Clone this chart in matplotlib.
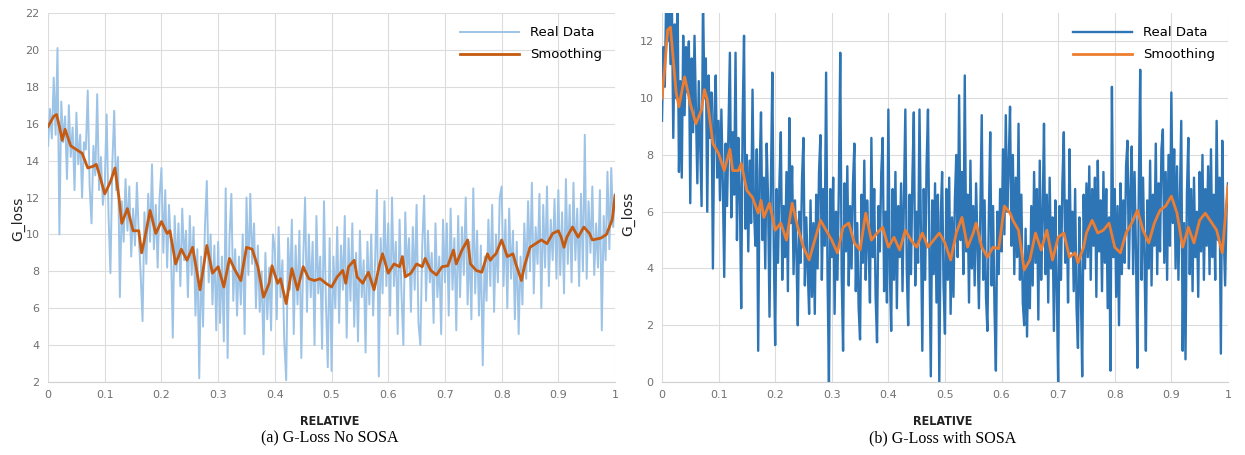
import numpy as np
import matplotlib
matplotlib.use('Agg')
import matplotlib.pyplot as plt

# ---- (a) G-Loss No SOSA ----
real_a = [
    14.8, 16.8, 15.2, 18.5, 15.4, 20.1, 10.0, 17.2, 15.0, 16.4,
    13.0, 17.0, 14.2, 15.8, 12.4, 16.6, 13.8, 15.4, 12.0, 15.0,
    14.6, 17.8, 12.6, 10.6, 14.8, 13.2, 17.6, 12.4, 14.2, 11.6,
    12.8, 16.5, 11.0, 7.9, 13.8, 16.7, 12.4, 14.2, 6.6, 11.8,
    9.6, 13.0, 10.2, 12.6, 8.8, 11.4, 9.4, 12.8, 10.0, 7.8,
    5.3, 11.2, 8.4, 12.2, 9.6, 13.8, 9.2, 11.6, 8.2, 12.0,
    13.6, 9.0, 12.4, 8.2, 11.6, 9.4, 4.4, 11.0, 8.0, 10.6,
    7.2, 11.4, 8.6, 10.2, 6.6, 11.0, 7.8, 10.4, 5.6, 9.2,
    2.2, 8.8, 5.0, 10.4, 12.9, 7.4, 10.0, 6.2, 9.4, 4.8,
    9.6, 5.2, 8.8, 4.2, 12.5, 3.3, 9.8, 12.2, 6.4, 9.2,
    5.6, 8.8, 6.2, 10.0, 4.6, 12.0, 7.8, 12.2, 8.4, 10.6,
    6.0, 9.4, 5.8, 8.0, 3.5, 9.0, 5.4, 8.2, 4.8, 10.0,
    9.2, 5.4, 10.4, 6.6, 8.6, 4.2, 2.1, 9.8, 7.0, 10.8,
    4.6, 9.4, 6.2, 10.2, 3.3, 8.6, 12.0, 5.8, 10.0, 6.6,
    9.6, 4.0, 11.0, 6.8, 8.8, 3.8, 11.8, 6.4, 2.8, 9.8,
    2.6, 8.8, 6.0, 10.4, 5.2, 9.4, 7.0, 11.0, 4.4, 9.8,
    6.4, 10.6, 5.0, 9.0, 4.2, 10.2, 6.6, 8.6, 3.6, 9.6,
    6.2, 10.0, 5.6, 8.4, 12.4, 2.3, 9.8, 6.8, 11.8, 7.2,
    10.6, 5.6, 12.0, 7.2, 9.6, 4.6, 10.8, 6.8, 4.0, 11.2,
    7.8, 9.8, 5.8, 10.4, 7.0, 11.6, 5.2, 4.0, 9.4, 12.1,
    6.4, 10.2, 7.4, 9.0, 5.2, 10.6, 6.6, 8.8, 4.6, 10.8,
    7.4, 10.6, 5.6, 11.4, 7.0, 9.8, 4.8, 11.0, 6.6, 10.4,
    7.8, 12.0, 6.2, 9.6, 5.4, 12.5, 6.8, 10.2, 5.6, 9.4,
    2.9, 8.8, 6.4, 10.8, 7.2, 11.6, 5.8, 10.0, 7.4, 12.0,
    12.6, 7.2, 10.8, 6.0, 11.4, 7.6, 10.2, 5.4, 9.6, 4.6,
    8.8, 6.2, 10.6, 7.6, 11.8, 8.0, 12.8, 6.8, 10.4, 8.4,
    12.2, 6.0, 11.6, 8.2, 12.6, 7.2, 10.8, 8.6, 11.9, 7.6,
    12.4, 7.8, 11.2, 6.8, 13.0, 8.4, 11.6, 7.4, 12.8, 8.6,
    11.4, 7.2, 12.2, 8.0, 15.4, 7.6, 11.8, 9.0, 12.6, 7.8,
    10.6, 8.2, 12.4, 4.8, 11.0, 8.6, 13.4, 9.2, 13.6, 10.4,
    12.2,
]
smooth_a_x = [0, 0.01, 0.015, 0.02, 0.025, 0.03, 0.04, 0.05, 0.06, 0.07,
              0.08, 0.085, 0.09, 0.1, 0.11, 0.118, 0.125, 0.13, 0.14, 0.15,
              0.16, 0.165, 0.17, 0.18, 0.19, 0.2, 0.21, 0.215, 0.225, 0.235,
              0.245, 0.255, 0.268, 0.28, 0.29, 0.3, 0.31, 0.32, 0.33, 0.34,
              0.35, 0.36, 0.37, 0.38, 0.39, 0.395, 0.405, 0.41, 0.42, 0.43,
              0.44, 0.45, 0.46, 0.47, 0.48, 0.49, 0.5, 0.51, 0.52, 0.525,
              0.53, 0.54, 0.545, 0.555, 0.565, 0.575, 0.585, 0.59, 0.6, 0.61,
              0.62, 0.625, 0.63, 0.64, 0.65, 0.66, 0.665, 0.675, 0.685, 0.695,
              0.705, 0.715, 0.72, 0.73, 0.74, 0.745, 0.755, 0.765, 0.775, 0.78,
              0.785, 0.79, 0.8, 0.81, 0.82, 0.825, 0.835, 0.84, 0.85, 0.86,
              0.87, 0.88, 0.89, 0.9, 0.905, 0.91, 0.915, 0.925, 0.935, 0.945,
              0.955, 0.96, 0.975, 0.985, 0.995, 1.0]
smooth_a_y = [15.85, 16.4, 16.5, 15.85, 15.1, 15.7, 14.8, 14.6, 14.4, 13.6,
              13.7, 13.8, 13.3, 12.2, 12.85, 13.6, 12.0, 10.6, 11.4, 10.2,
              10.2, 9.0, 9.7, 11.3, 10.05, 10.7, 10.05, 10.2, 8.4, 9.2,
              8.6, 9.3, 7.0, 9.4, 7.9, 8.25, 7.15, 8.7, 8.05, 7.5,
              9.3, 9.2, 8.25, 6.6, 7.35, 8.3, 7.35, 7.6, 6.25, 8.15,
              7.0, 8.25, 7.6, 7.5, 7.6, 7.35, 7.15, 7.7, 8.05, 7.35,
              8.25, 8.6, 7.7, 7.35, 7.95, 7.0, 8.4, 8.95, 7.9, 8.4,
              8.25, 8.8, 7.7, 7.9, 8.4, 8.25, 8.7, 8.05, 7.8, 8.25,
              8.3, 9.15, 8.4, 9.15, 9.7, 8.4, 8.05, 7.95, 8.95, 8.6,
              8.8, 8.95, 9.7, 8.8, 8.95, 8.4, 7.5, 8.25, 9.3, 9.5,
              9.7, 9.5, 10.05, 10.2, 9.85, 9.3, 9.85, 10.4, 9.85, 10.4,
              10.05, 9.7, 9.8, 10.0, 10.8, 12.1]

# ---- (b) G-Loss with SOSA ----
real_b = [
    9.2, 11.8, 10.4, 13.6, 12.0, 14.0, 11.2, 13.4, 8.6, 12.6,
    10.0, 13.8, 7.4, 10.6, 7.2, 12.2, 9.4, 11.8, 10.2, 12.0,
    6.3, 11.4, 8.8, 12.2, 9.6, 7.0, 10.6, 8.4, 6.2, 13.6,
    10.0, 11.4, 6.0, 10.8, 8.6, 10.2, 4.0, 9.4, 10.8, 7.2,
    9.2, 6.4, 9.6, 7.0, 3.7, 8.4, 6.2, 9.0, 11.6, 5.8,
    8.8, 6.6, 11.6, 5.0, 8.6, 6.8, 2.6, 9.2, 12.2, 5.4,
    8.0, 4.6, 7.8, 5.6, 10.3, 6.2, 4.8, 8.2, 1.1, 7.4,
    9.5, 5.0, 7.2, 4.0, 8.4, 6.4, 2.3, 7.0, 10.9, 4.8,
    1.3, 6.8, 4.2, 7.0, 8.8, 3.6, 6.2, 4.4, 7.4, 3.2,
    9.3, 5.6, 7.6, 3.8, 6.4, 4.6, 2.0, 6.0, 4.2, 7.2,
    8.6, 3.4, 5.8, 4.0, 2.4, 6.4, 3.0, 5.6, 2.4, 6.6,
    4.0, 7.4, 8.7, 3.6, 6.8, 4.8, 10.9, 3.8, 0.0, 6.8,
    4.4, 7.2, 2.4, 6.0, 3.6, 6.8, 11.6, 3.8, 1.1, 7.0,
    4.6, 7.6, 3.4, 6.2, 4.0, 7.0, 8.4, 3.2, 5.6, 2.6,
    1.5, 6.6, 4.2, 7.8, 3.6, 6.4, 4.8, 2.8, 8.6, 4.4,
    6.8, 3.0, 1.4, 6.2, 4.6, 7.4, 8.6, 3.2, 6.0, 2.8,
    9.6, 4.0, 1.8, 6.8, 3.6, 7.4, 2.6, 6.2, 4.4, 7.0,
    3.2, 6.4, 9.6, 4.0, 2.0, 6.6, 3.8, 7.2, 9.5, 3.4,
    6.0, 4.2, 9.6, 5.4, 1.1, 6.8, 3.6, 7.6, 9.6, 4.6,
    0.2, 6.4, 3.8, 7.0, 2.8, 6.6, 0.0, 5.8, 7.4, 3.4,
    1.7, 6.8, 3.6, 7.2, 2.4, 5.8, 3.0, 6.4, 8.0, 4.4,
    10.1, 5.0, 7.4, 3.8, 10.8, 4.6, 6.6, 2.8, 7.8, 4.0,
    6.2, 3.4, 7.0, 4.8, 2.6, 6.0, 9.4, 3.6, 6.4, 3.0,
    1.8, 5.8, 8.8, 3.4, 6.2, 2.6, 0.4, 6.0, 3.8, 6.8,
    4.6, 8.2, 5.2, 9.4, 6.0, 7.6, 9.7, 4.8, 8.0, 3.8,
    7.2, 4.4, 9.1, 3.6, 6.6, 2.8, 2.0, 5.4, 1.6, 4.8,
    2.6, 6.2, 3.4, 7.4, 4.2, 6.8, 2.2, 7.8, 3.6, 5.8,
    9.1, 3.8, 6.6, 2.8, 7.2, 4.0, 5.8, 1.8, 6.4, 3.4,
    0.0, 6.2, 3.6, 7.0, 8.8, 4.2, 6.4, 2.8, 8.2, 4.6,
    6.0, 3.2, 6.8, 2.6, 1.2, 5.8, 3.4, 0.2, 6.6, 4.0,
    7.0, 4.4, 7.6, 3.6, 6.8, 4.8, 7.2, 3.0, 7.8, 4.6,
    6.4, 3.2, 7.4, 4.2, 6.8, 2.6, 5.8, 0.4, 10.4, 4.4,
    6.8, 3.0, 6.2, 2.0, 7.0, 3.8, 6.4, 4.2, 7.6, 8.5,
    4.0, 6.6, 8.3, 3.8, 7.4, 4.6, 0.5, 6.8, 11.0, 3.6,
    7.2, 4.4, 1.1, 6.4, 4.0, 7.8, 3.4, 6.6, 4.8, 8.4,
    3.8, 7.0, 4.6, 8.2, 8.9, 4.2, 7.4, 3.6, 8.0, 4.8,
    10.2, 5.6, 8.2, 4.0, 7.6, 3.6, 6.4, 9.2, 1.1, 5.6,
    0.8, 6.6, 8.6, 3.8, 6.8, 3.2, 7.2, 4.4, 6.0, 3.0,
    7.4, 4.6, 8.0, 3.6, 6.8, 4.8, 7.6, 3.8, 8.2, 4.4,
    6.6, 3.6, 9.2, 5.0, 7.2, 1.0, 8.5, 5.2, 3.4, 6.0,
    7.0,
]
smooth_b_x = [0, 0.005, 0.01, 0.015, 0.02, 0.025, 0.03, 0.04, 0.045, 0.05,
              0.06, 0.07, 0.075, 0.08, 0.09, 0.1, 0.11, 0.12, 0.125, 0.135,
              0.14, 0.15, 0.16, 0.17, 0.175, 0.18, 0.19, 0.2, 0.21, 0.22,
              0.23, 0.24, 0.25, 0.26, 0.27, 0.28, 0.29, 0.3, 0.31, 0.32,
              0.33, 0.34, 0.35, 0.36, 0.37, 0.38, 0.39, 0.4, 0.41, 0.42,
              0.43, 0.44, 0.45, 0.46, 0.47, 0.48, 0.49, 0.5, 0.51, 0.52,
              0.53, 0.54, 0.55, 0.555, 0.565, 0.575, 0.585, 0.595, 0.605, 0.615,
              0.62, 0.63, 0.64, 0.65, 0.66, 0.67, 0.68, 0.69, 0.7, 0.71,
              0.72, 0.73, 0.735, 0.745, 0.75, 0.76, 0.77, 0.78, 0.79, 0.8,
              0.81, 0.82, 0.83, 0.84, 0.85, 0.86, 0.87, 0.88, 0.89, 0.9,
              0.91, 0.92, 0.93, 0.94, 0.95, 0.96, 0.97, 0.98, 0.99, 1.0]
smooth_b_y = [10.0, 11.1, 12.4, 12.5, 11.35, 10.2, 9.7, 10.75, 10.3, 9.8,
              9.1, 9.6, 10.3, 9.95, 8.4, 8.05, 7.45, 8.2, 7.45, 7.45,
              7.7, 6.75, 6.5, 5.95, 6.4, 5.8, 6.3, 5.35, 5.6, 5.0,
              6.3, 5.45, 4.75, 4.3, 5.0, 5.7, 5.35, 5.0, 4.55, 5.45,
              5.6, 4.9, 4.65, 5.95, 5.0, 5.25, 5.45, 4.75, 5.1, 4.65,
              5.35, 5.0, 4.75, 5.25, 4.75, 5.0, 5.25, 4.9, 4.3, 5.25,
              5.8, 4.75, 5.25, 5.6, 4.75, 4.4, 4.75, 4.7, 6.2, 5.95,
              5.7, 5.35, 3.95, 4.3, 5.25, 4.65, 5.35, 4.3, 5.1, 5.25,
              4.4, 4.55, 4.2, 4.75, 5.25, 5.7, 5.25, 5.35, 5.6, 4.75,
              4.55, 5.25, 5.6, 6.05, 5.35, 4.9, 5.6, 6.05, 6.2, 6.55,
              5.95, 4.75, 5.45, 4.9, 5.7, 5.95, 5.65, 5.35, 4.55, 6.9]

x_ticks = [0, 0.1, 0.2, 0.3, 0.4, 0.5, 0.6, 0.7, 0.8, 0.9, 1]
x_labels = ['0', '0.1', '0.2', '0.3', '0.4', '0.5', '0.6', '0.7', '0.8', '0.9', '1']


def style_axes(ax, yticks, ylim):
    ax.set_xlim(0, 1)
    ax.set_ylim(*ylim)
    ax.set_xticks(x_ticks)
    ax.set_xticklabels(x_labels)
    ax.set_yticks(yticks)
    ax.grid(True, color='#dcdcdc', lw=0.8)
    ax.set_axisbelow(True)
    for s in ['top', 'right', 'left']:
        ax.spines[s].set_visible(False)
    ax.spines['bottom'].set_color('#d0d0d0')
    ax.tick_params(length=0, labelsize=8, labelcolor='#707070', pad=6)
    ax.legend(loc='upper right', frameon=False, fontsize=9.5, handlelength=4.5,
              borderaxespad=0.6, labelspacing=0.7)


fig = plt.figure(figsize=(12.45, 4.55), dpi=100)
ax1 = fig.add_axes([0.0386, 0.1604, 0.4554, 0.811])
ax2 = fig.add_axes([0.5317, 0.1604, 0.4546, 0.811])

ax1.plot(np.linspace(0, 1, len(real_a)), real_a, color='#9dc3e6', lw=1.4, label='Real Data')
ax1.plot(smooth_a_x, smooth_a_y, color='#c55a11', lw=2.0, label='Smoothing')
style_axes(ax1, range(2, 23, 2), (2, 22))

ax2.plot(np.linspace(0, 1, len(real_b)), real_b, color='#2e75b6', lw=1.7, label='Real Data')
ax2.plot(smooth_b_x, smooth_b_y, color='#ed7d31', lw=2.0, label='Smoothing')
style_axes(ax2, range(0, 13, 2), (0, 13))

fig.text(0.0145, 0.52, 'G_loss', rotation=90, ha='center', va='center', fontsize=10, color='#222222')
fig.text(0.5045, 0.53, 'G_loss', rotation=90, ha='center', va='center', fontsize=10, color='#222222')
fig.text(0.265, 0.074, 'RELATIVE', ha='center', va='center', fontsize=9, color='#222222',
         fontweight='bold', fontstretch='condensed')
fig.text(0.757, 0.074, 'RELATIVE', ha='center', va='center', fontsize=9, color='#222222',
         fontweight='bold', fontstretch='condensed')
fig.text(0.265, 0.037, '(a) G-Loss No SOSA', ha='center', va='center', fontsize=11.5,
         family='Liberation Serif')
fig.text(0.757, 0.037, '(b) G-Loss with SOSA', ha='center', va='center', fontsize=11.5,
         family='Liberation Serif')

fig.savefig('out.png', dpi=100)
